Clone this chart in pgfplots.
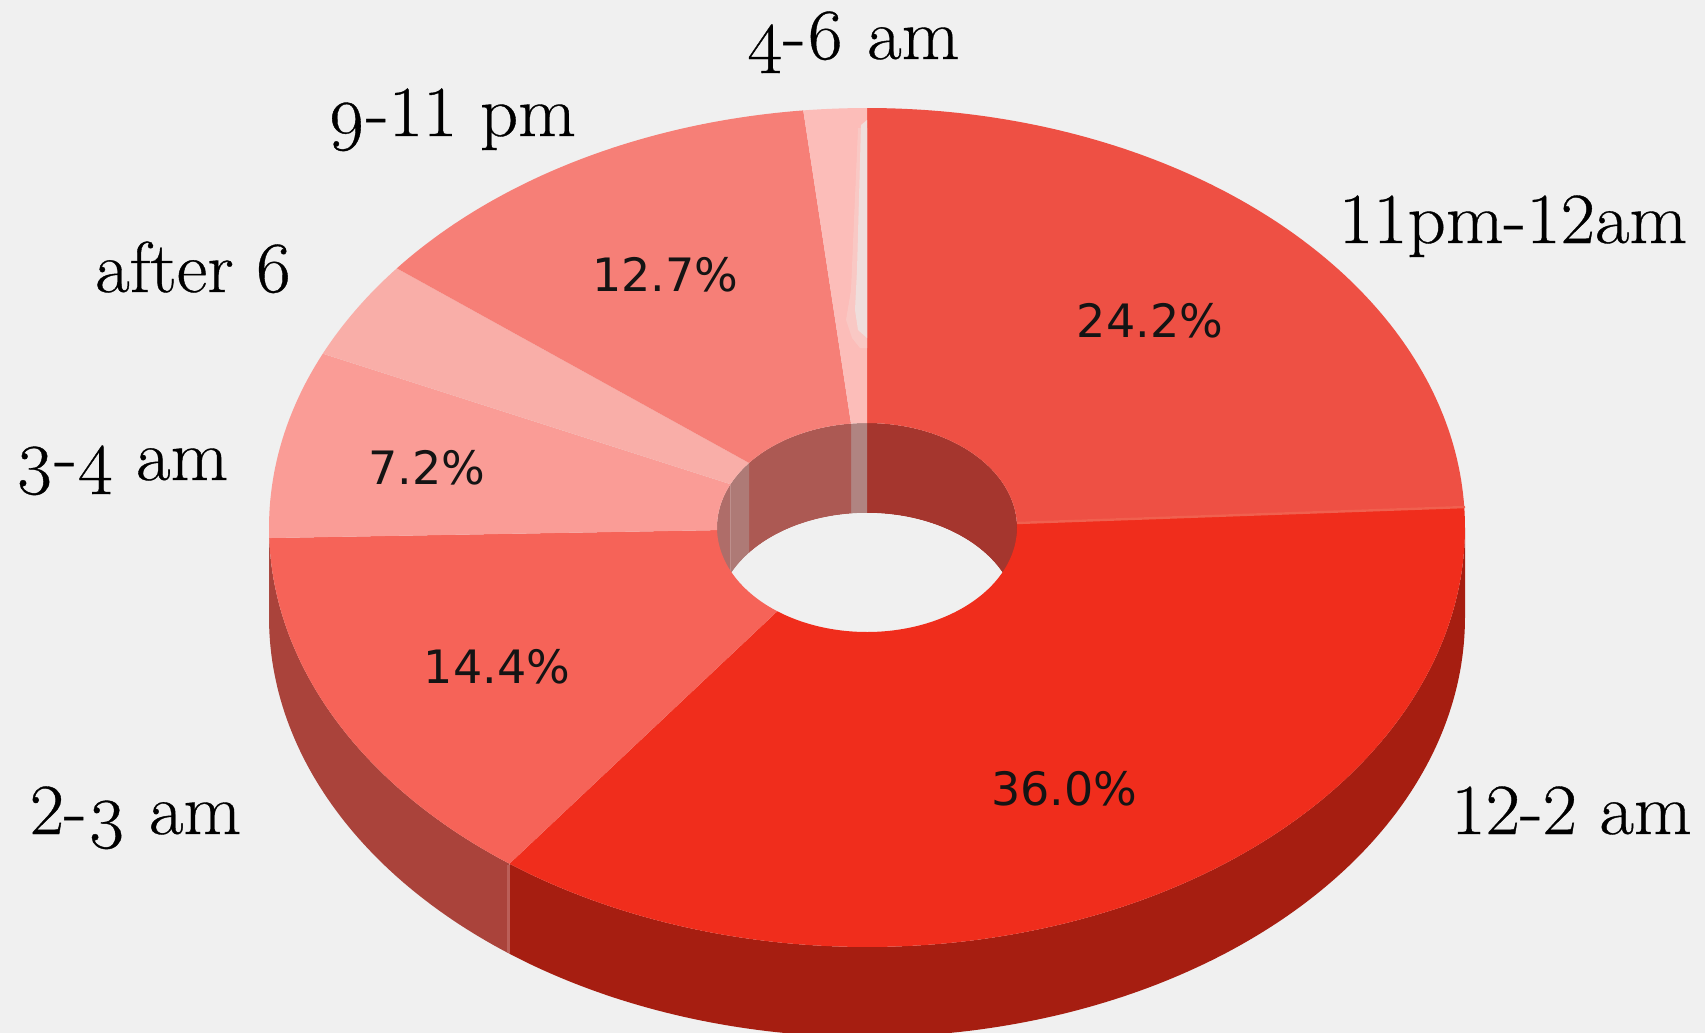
\documentclass[border=0pt]{standalone}
\usepackage{fontspec}
\usepackage{pgfplots}
\pgfplotsset{compat=1.18}
\newfontfamily\labelfont{Latin Modern Roman}[FakeBold=0.5]
\newfontfamily\labeloldfont{Latin Modern Roman}[Numbers=OldStyle,FakeBold=0.5]
\newfontfamily\pctfont{DejaVu Sans}
\definecolor{pagebg}{HTML}{F0F0F0}
\definecolor{seamwall}{HTML}{BB5F58}
\definecolor{seamface}{HTML}{F0604F}
\definecolor{streakA}{HTML}{F9C8C4}
\definecolor{streakB}{HTML}{EFDEDC}
% slice colours and their darker side walls
\definecolor{faceA}{HTML}{EE5044}\definecolor{wallA}{HTML}{A5362E}
\definecolor{faceB}{HTML}{F02D1C}\definecolor{wallB}{HTML}{A61E11}
\definecolor{faceC}{HTML}{F66358}\definecolor{wallC}{HTML}{AA433B}
\definecolor{faceD}{HTML}{FA9C96}\definecolor{wallD}{HTML}{AF6D69}
\definecolor{faceE}{HTML}{F9AEA8}\definecolor{wallE}{HTML}{AE7A76}
\definecolor{faceF}{HTML}{F67F77}\definecolor{wallF}{HTML}{AC5953}
\definecolor{faceG}{HTML}{FCBDB9}\definecolor{wallG}{HTML}{B08481}
% ring geometry
\def\cx{867}\def\cy{527.5}\def\Rx{598}\def\Ry{419.5}\def\rx{150}\def\ry{104.5}\def\depth{90}
% append an elliptical arc, from percentage #5 to #6 clockwise from twelve o'clock
\newcommand\arcpoints[6]{%
  \pgfmathtruncatemacro\nsteps{max(2,ceil(abs(#6-#5)*4))}%
  \foreach \i in {0,...,\nsteps}{%
    \pgfmathsetmacro\ang{3.6*(#5+(#6-#5)/\nsteps*\i)}%
    \pgfmathsetmacro\px{#1+#3*sin(\ang)}%
    \pgfmathsetmacro\py{#2-#4*cos(\ang)}%
    \xdef\pts{\pts (\px,\py)}%
  }%
}
\newcommand\flushpoly[1]{%
  \edef\tmp{\noexpand\addplot[fill=#1,draw=none,forget plot] coordinates {\pts};}\tmp}
% top face of a slice
\newcommand\topslice[3]{%
  \gdef\pts{}%
  \arcpoints{\cx}{\cy}{\Rx}{\Ry}{#2}{#3}%
  \arcpoints{\cx}{\cy}{\rx}{\ry}{#3}{#2}%
  \flushpoly{#1}}
% wall below an arc of the given radii
\newcommand\wallslice[5]{%
  \gdef\pts{}%
  \pgfmathsetmacro\ylow{\cy+\depth}%
  \arcpoints{\cx}{\cy}{#2}{#3}{#4}{#5}%
  \arcpoints{\cx}{\ylow}{#2}{#3}{#5}{#4}%
  \flushpoly{#1}}
\begin{document}
\begin{tikzpicture}
\fill[pagebg] (0,0) rectangle (852.5pt,516.5pt);
\begin{axis}[at={(0,0)},anchor=south west,scale only axis,
  width=852.5pt,height=516.5pt,
  xmin=0,xmax=1705,ymin=0,ymax=1033,y dir=reverse,hide axis,clip=true]
% outer wall, front half of the ring
\wallslice{wallB}{\Rx}{\Ry}{25}{60.2}
\wallslice{wallC}{\Rx}{\Ry}{60.2}{74.6}
\wallslice{wallD}{\Rx}{\Ry}{74.6}{75}
\addplot[draw=seamwall,line width=1.5pt,forget plot] coordinates {(508,865)(508,953)};
% inner wall, back half of the hole
\wallslice{wallA}{\rx}{\ry}{0}{24.2}
\wallslice{wallB}{\rx}{\ry}{24.2}{25}
\wallslice{wallG}{\rx}{\ry}{-1.7}{0}
\wallslice{wallF}{\rx}{\ry}{-14.4}{-1.7}
\wallslice{wallE}{\rx}{\ry}{-18.2}{-14.4}
\wallslice{wallD}{\rx}{\ry}{-25}{-18.2}
% floor of the hole shows the page colour
\gdef\pts{}
\pgfmathsetmacro\yfloor{\cy+\depth}
\arcpoints{\cx}{\yfloor}{\rx}{\ry}{0}{100}
\flushpoly{pagebg}
% top faces: 11pm-12am, 12-2 am, 2-3 am, 3-4 am, after 6, 9-11 pm, 4-6 am
\topslice{faceA}{0}{24.2}
\topslice{faceB}{24.2}{60.2}
\topslice{faceC}{60.2}{74.6}
\topslice{faceD}{74.6}{81.8}
\topslice{faceE}{81.8}{85.6}
\topslice{faceF}{85.6}{98.3}
\topslice{faceG}{98.3}{100}
% pale streak on the narrow slice
\addplot[fill=streakA,draw=none,forget plot] coordinates {(867,128)(858,128)(851,290)(846,320)(852,338)(860,348)(867,348)};
\addplot[fill=streakB,draw=none,forget plot] coordinates {(867,120)(861,125)(857,270)(855,310)(858,330)(867,338)};
% light seam between the two largest slices
\addplot[draw=seamface,line width=1.2pt,forget plot] coordinates {(1017,523)(1465,507)};
% percentages
\node[font=\pctfont\fontsize{23}{26}\selectfont,anchor=base,text=black!92] at (axis cs:1150,337) {24.2\%};
\node[font=\pctfont\fontsize{23}{26}\selectfont,anchor=base,text=black!92] at (axis cs:665.5,291) {12.7\%};
\node[font=\pctfont\fontsize{23}{26}\selectfont,anchor=base,text=black!92] at (axis cs:427,484) {7.2\%};
\node[font=\pctfont\fontsize{23}{26}\selectfont,anchor=base,text=black!92] at (axis cs:497,683) {14.4\%};
\node[font=\pctfont\fontsize{23}{26}\selectfont,anchor=base,text=black!92] at (axis cs:1064.5,805) {36.0\%};
% slice names
\tikzset{slicename/.style={font=\labelfont\fontsize{36}{42}\selectfont,anchor=base,xscale=1.04,inner sep=0pt}}
\node[slicename] at (axis cs:853,59) {{\labeloldfont 4}-{\labeloldfont 6} am};
\node[slicename] at (axis cs:451.5,136) {{\labeloldfont 9}-11 pm};
\node[slicename] at (axis cs:1513,243) {11pm-12am};
\node[slicename] at (axis cs:193,292) {after 6};
\node[slicename] at (axis cs:121.5,480) {{\labeloldfont 3}-{\labeloldfont 4} am};
\node[slicename] at (axis cs:135.5,834) {2-{\labeloldfont 3} am};
\node[slicename] at (axis cs:1571.5,834) {12-2 am};
\end{axis}
\end{tikzpicture}
\end{document}
